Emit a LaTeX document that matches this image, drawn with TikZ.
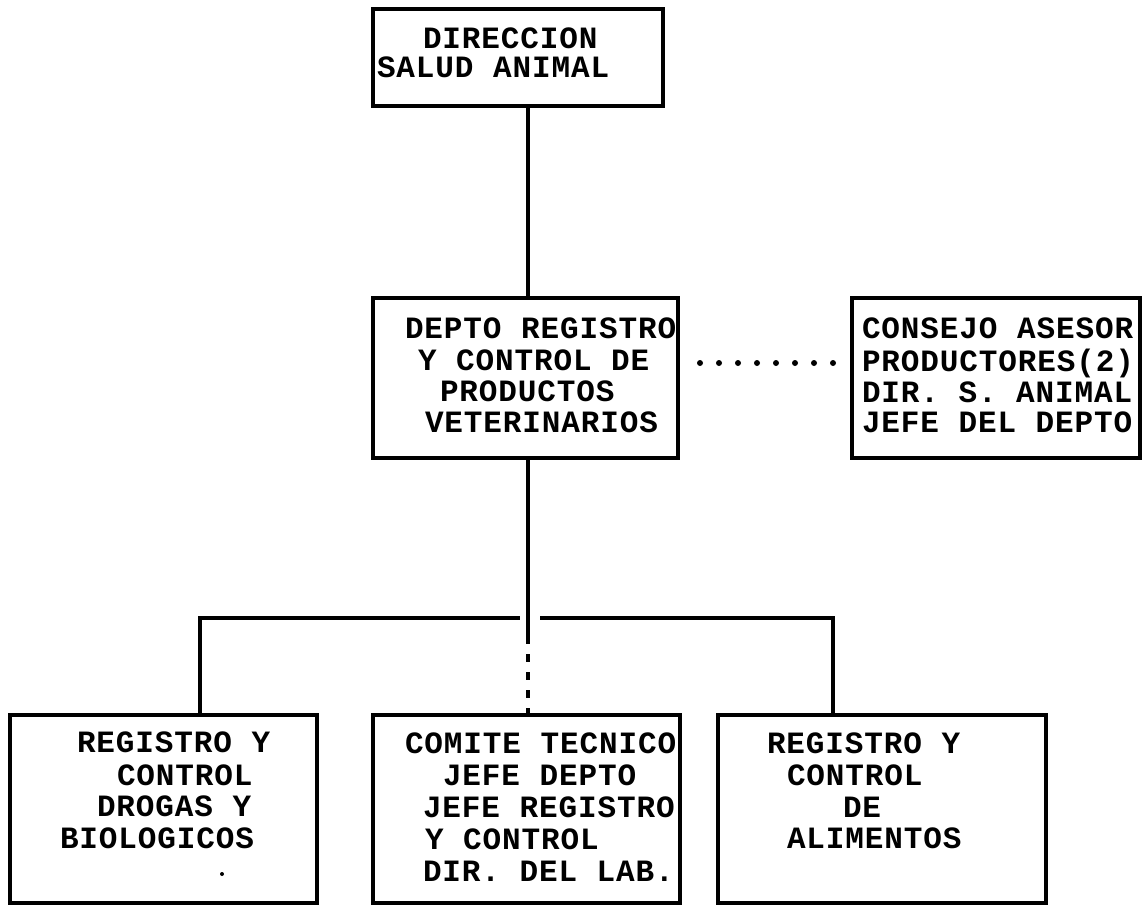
\documentclass[tikz,border=0pt]{standalone}
\usepackage{fontspec}
\newfontfamily\plotfont{Liberation Mono}[LetterSpace=2.9]
\begin{document}
\begin{tikzpicture}[x=0.5pt,y=-0.5pt,
  box/.style={draw, line width=1.8pt, inner sep=0pt, outer sep=0pt},
  txt/.style={anchor=base west, inner sep=0pt, outer sep=0pt,
    font=\plotfont\bfseries\fontsize{15.5pt}{15.5pt}\selectfont},
  conn/.style={line width=1.8pt},
  dotline/.style={line width=3pt, line cap=round, dash pattern=on 0pt off 9.5pt},
  dashline/.style={line width=1.8pt, dash pattern=on 4pt off 5pt}]
\useasboundingbox (0,0) rectangle (1146,906);

% boxes
\node[box, minimum width=145pt, minimum height=48.5pt] (top) at (518,57.5) {};
\node[box, minimum width=152.5pt, minimum height=80pt] (mid) at (525.5,378) {};
\node[box, minimum width=144pt, minimum height=80pt] (cons) at (996,378) {};
\node[box, minimum width=153.5pt, minimum height=94pt] (bl) at (163.5,809) {};
\node[box, minimum width=153.5pt, minimum height=94pt] (bm) at (526.5,809) {};
\node[box, minimum width=164pt, minimum height=94pt] (br) at (882,809) {};

% texts
\node[txt] (t1) at (423,48) {DIRECCION};
\node[txt] (t2) at (377,77.5) {SALUD ANIMAL};

\node[txt] (m1) at (405,338) {DEPTO REGISTRO};
\node[txt] (m2) at (418,370) {Y CONTROL DE};
\node[txt] (m3) at (440,401) {PRODUCTOS};
\node[txt] (m4) at (425,432) {VETERINARIOS};

\node[txt] (c1) at (862,338) {CONSEJO ASESOR};
\node[txt] (c2) at (862,371) {PRODUCTORES(2)};
\node[txt] (c3) at (862,402) {DIR. S. ANIMAL};
\node[txt] (c4) at (862,432) {JEFE DEL DEPTO};

\node[txt] (l1) at (77,752) {REGISTRO Y};
\node[txt] (l2) at (117,785) {CONTROL};
\node[txt] (l3) at (97,816) {DROGAS Y};
\node[txt] (l4) at (60,848) {BIOLOGICOS};
\fill (222,874) circle (1pt);

\node[txt] (b1) at (405,753) {COMITE TECNICO};
\node[txt] (b2) at (443,785) {JEFE DEPTO};
\node[txt] (b3) at (423,817) {JEFE REGISTRO};
\node[txt] (b4) at (425,849) {Y CONTROL};
\node[txt] (b5) at (423,881) {DIR. DEL LAB.};

\node[txt] (r1) at (767,753) {REGISTRO Y};
\node[txt] (r2) at (787,785) {CONTROL};
\node[txt] (r3) at (843,817) {DE};
\node[txt] (r4) at (787,848) {ALIMENTOS};

% junctions
\coordinate (jl) at (200,618);
\coordinate (jm) at (528,618);
\coordinate (jr) at (833,618);
\coordinate (cut) at (528,636);

% connectors
\draw[conn] (top.south -| jm) -- (mid.north -| jm);
\draw[conn] (mid.south -| jm) -- (cut);
\draw[dashline] (cut) -- (bm.north -| jm);
\draw[conn] (jl |- bl.north) -- (jl) -- ([xshift=-4pt]jm);
\draw[conn] ([xshift=6pt]jm) -- (jr) -- (jr |- br.north);
\draw[dotline, shorten <=11pt, shorten >=9pt] ([yshift=7.5pt]mid.east) -- ([yshift=7.5pt]cons.west);
\end{tikzpicture}
\end{document}
